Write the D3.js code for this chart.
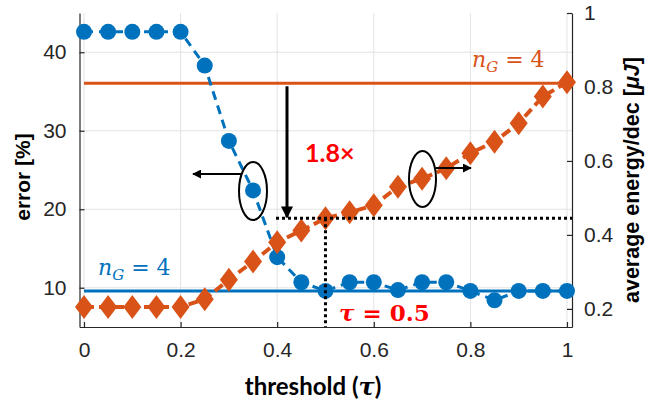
<!DOCTYPE html>
<html>
<head>
<meta charset="utf-8">
<script src="https://cdn.jsdelivr.net/npm/d3@7"></script>
<style>
  body { margin: 0; background: #fff; }
  text { font-family: "Liberation Sans", Arial, sans-serif; }
</style>
</head>
<body>
<div id="chart"></div>
<script>
// data
const thresholds = [0, 0.05, 0.1, 0.15, 0.2, 0.25, 0.3, 0.35, 0.4, 0.45, 0.5,
                    0.55, 0.6, 0.65, 0.7, 0.75, 0.8, 0.85, 0.9, 0.95, 1];
const errorPct = [42.6, 42.6, 42.6, 42.6, 42.6, 38.3, 28.7, 22.4, 13.9, 10.7, 9.6,
                  10.7, 10.7, 9.7, 10.7, 10.7, 9.6, 8.4, 9.6, 9.6, 9.6];
const energy = [0.205, 0.205, 0.205, 0.205, 0.205, 0.226, 0.279, 0.328, 0.380, 0.412, 0.445,
                0.461, 0.480, 0.530, 0.552, 0.580, 0.621, 0.652, 0.702, 0.774, 0.813];
const baselineError = 9.6;     // n_G = 4, error
const baselineEnergy = 0.81;   // n_G = 4, energy
const xTicks = [0, 0.2, 0.4, 0.6, 0.8, 1];
const leftTicks = [10, 20, 30, 40];
const rightTicks = [0.2, 0.4, 0.6, 0.8, 1];
const chosenTau = 0.5;

const width = 645, height = 402;
const pLeft = 79.5, pRight = 572, pTop = 13, pBottom = 327;
const blue = "#0072BD", orange = "#D95319", axisCol = "#262626";

const svg = d3.select("#chart").append("svg")
  .attr("width", width).attr("height", height);

const x = d3.scaleLinear().domain([-0.0093, 1.0104]).range([pLeft, pRight]);
const yL = d3.scaleLinear().domain([5, 45]).range([pBottom, pTop]);
const yR = d3.scaleLinear().domain([0.151, 1]).range([pBottom, pTop]);

// grid
svg.append("g").selectAll("line").data(xTicks).join("line")
  .attr("x1", d => x(d)).attr("x2", d => x(d))
  .attr("y1", pTop).attr("y2", pBottom)
  .attr("stroke", "#e3e3e3").attr("stroke-width", 1);
svg.append("g").selectAll("line").data(leftTicks).join("line")
  .attr("x1", pLeft).attr("x2", pRight)
  .attr("y1", d => yL(d)).attr("y2", d => yL(d))
  .attr("stroke", "#e3e3e3").attr("stroke-width", 1);

// axes (ticks point inward)
function styleAxis(g) {
  g.select(".domain").attr("stroke", axisCol).attr("stroke-width", 1.2);
  g.selectAll(".tick line").attr("stroke", axisCol).attr("stroke-width", 1.2);
  g.selectAll(".tick text").attr("fill", axisCol)
    .style("font-family", "'Liberation Sans', Arial, sans-serif").style("font-size", "21px");
}
svg.append("g").attr("transform", `translate(0,${pBottom})`)
  .call(d3.axisBottom(x).tickValues(xTicks).tickFormat(d3.format("~g"))
    .tickSizeInner(-5).tickSizeOuter(0).tickPadding(15))
  .call(styleAxis);
svg.append("g").attr("transform", `translate(${pLeft},0)`)
  .call(d3.axisLeft(yL).tickValues(leftTicks).tickSizeInner(-5).tickSizeOuter(0).tickPadding(13))
  .call(styleAxis);
svg.append("g").attr("transform", `translate(${pRight},0)`)
  .call(d3.axisRight(yR).tickValues(rightTicks).tickFormat(d3.format("~g"))
    .tickSizeInner(-5).tickSizeOuter(0).tickPadding(12))
  .call(styleAxis);

// reference lines n_G = 4
svg.append("line").attr("x1", x(0)).attr("x2", x(1))
  .attr("y1", yL(baselineError)).attr("y2", yL(baselineError))
  .attr("stroke", blue).attr("stroke-width", 3);
svg.append("line").attr("x1", x(0)).attr("x2", x(1))
  .attr("y1", yR(baselineEnergy)).attr("y2", yR(baselineEnergy))
  .attr("stroke", orange).attr("stroke-width", 3);

// error series
svg.append("path").datum(thresholds)
  .attr("d", d3.line().x(d => x(d)).y((d, i) => yL(errorPct[i])))
  .attr("fill", "none").attr("stroke", blue).attr("stroke-width", 3)
  .attr("stroke-dasharray", "9,6");
svg.append("g").selectAll("circle").data(thresholds).join("circle")
  .attr("cx", d => x(d)).attr("cy", (d, i) => yL(errorPct[i]))
  .attr("r", 8).attr("fill", blue);

// energy series
svg.append("path").datum(thresholds)
  .attr("d", d3.line().x(d => x(d)).y((d, i) => yR(energy[i])))
  .attr("fill", "none").attr("stroke", orange).attr("stroke-width", 4)
  .attr("stroke-dasharray", "10,5");
svg.append("g").selectAll("path").data(thresholds).join("path")
  .attr("transform", (d, i) => `translate(${x(d)},${yR(energy[i])})`)
  .attr("d", "M0,-12L9,0L0,12L-9,0Z").attr("fill", orange);

// labels n_G = 4
function nG(xp, yp, col) {
  const t = svg.append("text").attr("x", xp).attr("y", yp).attr("fill", col)
    .style("font-family", "'DejaVu Serif', 'Liberation Serif', serif").style("font-size", "22px");
  t.append("tspan").text("n").style("font-style", "italic");
  t.append("tspan").text("G").style("font-style", "italic").style("font-size", "15px").attr("dy", 5);
  t.append("tspan").text(" = 4").attr("dy", -5);
}
nG(98, 275, blue);
nG(472, 67, orange);

// annotations
const defs = svg.append("defs");
defs.append("marker").attr("id", "ah")
  .attr("viewBox", "0 0 10 10").attr("refX", 9).attr("refY", 5)
  .attr("markerWidth", 4.5).attr("markerHeight", 4.5).attr("orient", "auto")
  .append("path").attr("d", "M0,0L10,5L0,10Z").attr("fill", "#000");
defs.append("marker").attr("id", "ahBig")
  .attr("viewBox", "0 0 10 10").attr("refX", 9).attr("refY", 5)
  .attr("markerWidth", 4).attr("markerHeight", 4).attr("orient", "auto")
  .append("path").attr("d", "M0,0L10,5L0,10Z").attr("fill", "#000");

const dotY = yR(energy[thresholds.indexOf(chosenTau)]);
svg.append("line").attr("x1", 276).attr("x2", pRight).attr("y1", dotY).attr("y2", dotY)
  .attr("stroke", "#000").attr("stroke-width", 3).attr("stroke-dasharray", "3,3");
svg.append("line").attr("x1", x(chosenTau)).attr("x2", x(chosenTau)).attr("y1", dotY).attr("y2", pBottom)
  .attr("stroke", "#000").attr("stroke-width", 3).attr("stroke-dasharray", "3,3");

svg.append("line").attr("x1", 287).attr("x2", 287)
  .attr("y1", yR(baselineEnergy) + 3).attr("y2", dotY - 1)
  .attr("stroke", "#000").attr("stroke-width", 3).attr("marker-end", "url(#ahBig)");

svg.append("ellipse").attr("cx", 253).attr("cy", 191).attr("rx", 14).attr("ry", 29)
  .attr("fill", "none").attr("stroke", "#000").attr("stroke-width", 2);
svg.append("ellipse").attr("cx", 422.5).attr("cy", 179).attr("rx", 13.5).attr("ry", 28)
  .attr("fill", "none").attr("stroke", "#000").attr("stroke-width", 2);
svg.append("line").attr("x1", 241).attr("x2", 193).attr("y1", 174).attr("y2", 174)
  .attr("stroke", "#000").attr("stroke-width", 2).attr("marker-end", "url(#ah)");
svg.append("line").attr("x1", 436).attr("x2", 471).attr("y1", 168).attr("y2", 168)
  .attr("stroke", "#000").attr("stroke-width", 2).attr("marker-end", "url(#ah)");

svg.append("text").attr("x", 305).attr("y", 162).attr("fill", "#ff0000")
  .style("font-family", "Lato, 'Open Sans', sans-serif").style("font-weight", "bold").style("font-size", "25px")
  .text("1.8×");

const tau = svg.append("text").attr("x", 339).attr("y", 321).attr("fill", "#ff0000")
  .style("font-family", "'DejaVu Serif', 'Liberation Serif', serif").style("font-weight", "bold").style("font-size", "23px");
tau.append("tspan").text("τ").style("font-style", "italic");
tau.append("tspan").text(" = 0.5");

// axis titles
const xt = svg.append("text").attr("x", 313).attr("y", 395).attr("text-anchor", "middle")
  .attr("fill", "#000")
  .style("font-family", "Lato, 'Open Sans', sans-serif").style("font-weight", "bold").style("font-size", "24px");
xt.append("tspan").text("threshold (");
xt.append("tspan").text("τ").style("font-style", "italic").style("font-family", "'DejaVu Serif', serif");
xt.append("tspan").text(")");

svg.append("text").attr("transform", "translate(30,177) rotate(-90)").attr("text-anchor", "middle")
  .attr("fill", "#000").style("font-weight", "bold").style("font-size", "21px")
  .text("error [%]");

const yr = svg.append("text").attr("transform", "translate(639,180) rotate(-90)").attr("text-anchor", "middle")
  .attr("fill", "#000").style("font-weight", "bold").style("font-size", "21.5px");
yr.append("tspan").text("average energy/dec [");
yr.append("tspan").text("μJ").style("font-style", "italic");
yr.append("tspan").text("]");
</script>
</body>
</html>
